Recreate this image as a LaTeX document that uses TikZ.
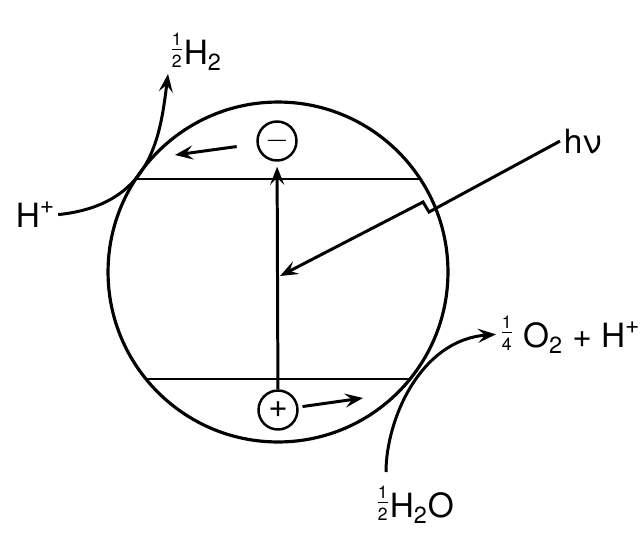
\documentclass[tikz,border=0pt]{standalone}
\usepackage{amsmath}
\usepackage{fontspec}
\setmainfont{TeX Gyre Heros}
\usetikzlibrary{arrows.meta}
\newcommand\hfrac[2]{\raisebox{0.4ex}{$\genfrac{}{}{0.7pt}{}{\hbox{\fontsize{10}{10}\selectfont #1}}{\hbox{\fontsize{10}{10}\selectfont #2}}$}}
\newcommand\hplus{\raisebox{0.75ex}{\fontsize{14}{14}\selectfont +}}

\begin{document}
\begin{tikzpicture}[x=0.02cm, y=-0.02cm, >={Stealth[length=0.36cm, width=0.28cm, inset=0.14cm]},
	level/.style={line width=1.2pt},
	flow/.style={->, line width=1.7pt},
	charge/.style={draw, circle, line width=1.4pt, minimum size=0.78cm, inner sep=0pt, font=\fontsize{19}{19}\selectfont},
	species/.style={inner sep=2pt, font=\fontsize{19}{22}\selectfont}]
	\useasboundingbox (0,0) rectangle (641,551);
	% particle and its two band edges
	\node[draw, circle, line width=1.8pt, minimum size=6.8cm, inner sep=0pt, outer sep=0pt] (cell) at (278,272) {};
	\draw[level] (cell.147) -- (cell.33);
	\draw[level] (cell.219) -- (cell.321);
	\node[charge] (minus) at (277,141) {$-$};
	\node[charge] (plus) at (278,410) {+};
	\draw[flow, shorten >=0.1cm] (plus) -- (minus);
	% light
	\node[species, anchor=base west] (hnu) at (560,153) {hν};
	\coordinate (hit) at (280,276);
	\draw[flow] (hnu.west) -- (429,212) -- (423,202) -- (hit);
	% carriers moving to the surface
	\coordinate (eEnd) at (175,155);
	\coordinate (hEnd) at (363,398);
	\draw[flow, shorten <=0.4cm] (minus) -- (eEnd);
	\draw[flow, shorten <=0.08cm] (plus) -- (hEnd);
	% reactions at the surface
	\node[species, anchor=base west] (Hp) at (12,227) {H\hplus};
	\node[species, anchor=base west] (H2) at (166,64) {\hfrac12H\textsubscript{2}};
	\node[species, anchor=base west] (O2) at (496,347) {\hfrac14 O\textsubscript{2} + H\hplus};
	\node[species, anchor=base west] (H2O) at (372,517) {\hfrac12H\textsubscript{2}O};
	\draw[flow] (Hp.east) .. controls (150,205) and (160,140) .. ([shift={(2,10)}]H2.base west);
	\draw[flow] ([shift={(14,-45)}]H2O.base west) .. controls (386,420) and (420,340) .. (O2.west);
\end{tikzpicture}
\end{document}
